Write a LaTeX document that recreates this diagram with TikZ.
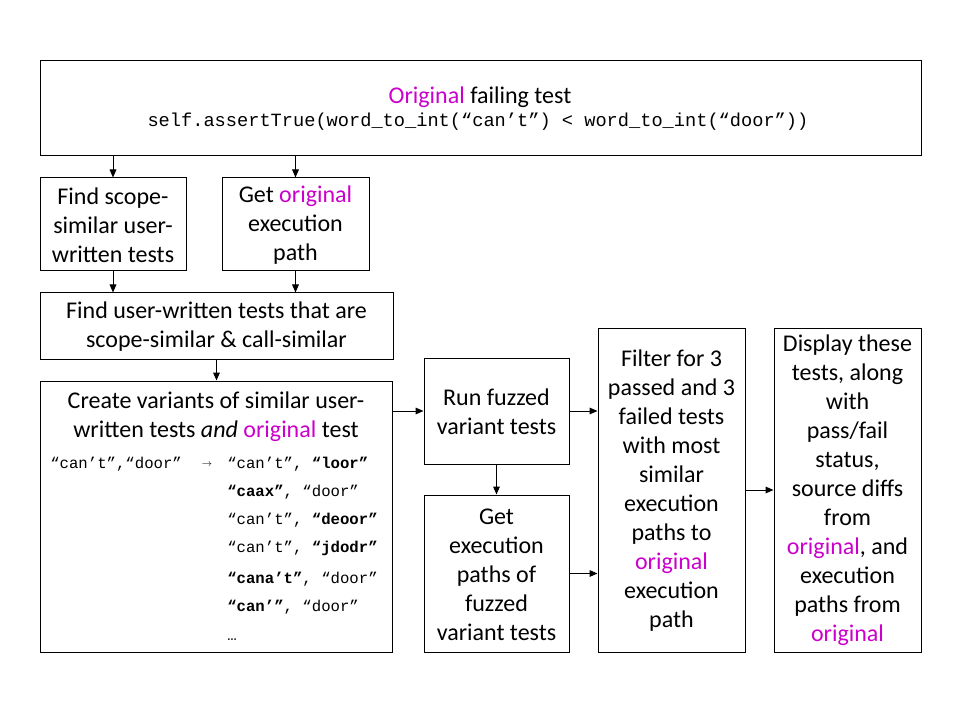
\documentclass[tikz,border=0pt]{standalone}
\usepackage{fontspec}
\setmainfont{Carlito}
\setmonofont{Liberation Mono}
\usetikzlibrary{arrows.meta,fit}
\definecolor{mag}{RGB}{204,0,204}
\newcommand{\og}[1]{\textcolor{mag}{#1}}
\begin{document}
\begin{tikzpicture}[x=0.75pt,y=-0.75pt,
  box/.style={draw, line width=0.75pt, inner sep=0pt},
  txt/.style={inner sep=0pt, align=center, font=\fontsize{18}{21.75}\selectfont},
  arr/.style={-{Triangle[length=6pt,width=5pt]}, line width=0.75pt},
  code/.style={font=\fontsize{11.75}{13}\selectfont\ttfamily, inner sep=0pt, anchor=mid west}]
\useasboundingbox (0,0) rectangle (960,720);

% boxes
\node[box, fit={(40,61) (921,156)}] (top) {};
\node[box, fit={(40,178) (186,271)}] (scope) {};
\node[box, fit={(222,178) (369,271)}] (orig) {};
\node[box, fit={(40,293) (393,359)}] (user) {};
\node[box, fit={(40,381) (392,652)}] (create) {};
\node[box, fit={(424,358) (569,464)}] (run) {};
\node[box, fit={(424,495) (569,652)}] (getx) {};
\node[box, fit={(598,328) (745,652)}] (filter) {};
\node[box, fit={(774,328) (921,652)}] (disp) {};

% texts
\node[txt] (topa) at (480,97.5) {\og{Original} failing test};
\node[inner sep=0pt, font=\fontsize{14}{16}\selectfont\ttfamily] (topb) at (478,122)
  {self.assertTrue(word\_to\_int(“can’t”) < word\_to\_int(“door”))};
\node[txt] (scopet) at ([yshift=-0.75pt]scope.center) {Find scope-\\similar user-\\written tests};
\node[txt] (origt) at ([yshift=-0.75pt]orig.center) {Get \og{original}\\execution\\path};
\node[txt] (usert) at ([yshift=-0.75pt]user.center) {Find user-written tests that are\\scope-similar \& call-similar};
\node[txt] (createt) at (216,417) {Create variants of similar user-\\written tests \textit{and} \og{original} test};
\node[txt] (runt) at ([yshift=-0.75pt]run.center) {Run fuzzed\\variant tests};
\node[txt] (getxt) at ([yshift=-0.75pt]getx.center) {Get\\execution\\paths of\\fuzzed\\variant tests};
\node[txt] (filtert) at ([yshift=-0.75pt]filter.center) {Filter for 3\\passed and 3\\failed tests\\with most\\similar\\execution\\paths to\\\og{original}\\execution\\path};
\node[txt] (dispt) at (disp.center) {Display these\\tests, along\\with\\pass/fail\\status,\\source diffs\\from\\\og{original}, and\\execution\\paths from\\\og{original}};

\node[code] (c0) at (50,465) {“can’t”,“door”};
\node[inner sep=0pt] (carr) at (207,465) {$\scriptstyle\rightarrow$};
\node[code] (c1) at (227,465) {“can’t”, \textbf{“loor”}};
\node[code] (c2) at (227,493) {\textbf{“caax”}, “door”};
\node[code] (c3) at (227,521) {“can’t”, \textbf{“deoor”}};
\node[code] (c4) at (227,549) {“can’t”, \textbf{“jdodr”}};
\node[code] (c5) at (227,580) {\textbf{“cana’t”}, “door”};
\node[code] (c6) at (227,608) {\textbf{“can’”}, “door”};
\node[code] (c7) at (227,637) {…};

% connectors
\draw[arr] (top.south -| scope) -- (scope.north);
\draw[arr] (top.south -| orig) -- (orig.north);
\draw[arr] (scope.south) -- (scope.south |- user.north);
\draw[arr] (orig.south) -- (orig.south |- user.north);
\draw[arr] (user.south) -- (user.south |- create.north);
\draw[arr] (create.east |- run) -- (run.west);
\draw[arr] (run.south) -- (getx.north);
\draw[arr] (run.east) -- (run.east -| filter.west);
\draw[arr] (getx.east) -- (getx.east -| filter.west);
\draw[arr] (filter.east) -- (disp.west);
\end{tikzpicture}
\end{document}
